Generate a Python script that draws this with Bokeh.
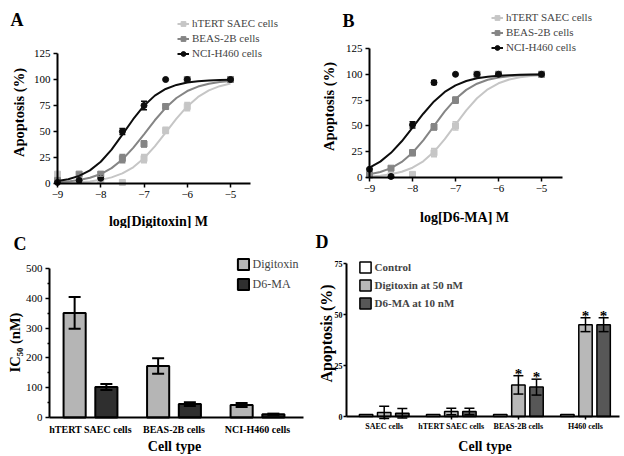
from math import pi
from bokeh.plotting import figure
from bokeh.models import (ColumnDataSource, Whisker, TeeHead, Legend, LegendItem, Label,
                          FixedTicker, Range1d)
from bokeh.transform import dodge
from bokeh.layouts import column, row
from bokeh.embed import file_html
from bokeh.resources import INLINE
from bokeh.core.properties import value

FONT = "Liberation Serif"

# ---------------- data ----------------
series_names = ["hTERT SAEC cells", "BEAS-2B cells", "NCI-H460 cells"]
series_colors = ["#c6c6c6", "#858585", "#0d0d0d"]
series_markers = ["square", "square", "circle"]

conc = [-9.0, -8.5, -8.0, -7.5, -7.0, -6.5, -6.0, -5.0]
fit_x = [-9.0, -8.75, -8.5, -8.25, -8.0, -7.75, -7.5, -7.25, -7.0,
         -6.75, -6.5, -6.25, -6.0, -5.75, -5.5, -5.25, -5.0]

# Panel A (Digitoxin)
A_hTERT = [9, 3, 3, 1, 24, 51, 74, 100]
A_hTERT_err = [0, 0, 0, 0, 4, 3, 4, 0]
A_BEAS = [3, 9, 9, 24, 38, 74, 100, 100]
A_BEAS_err = [0, 0, 2, 4, 3, 2, 0, 0]
A_NCI = [1, 3, 5, 50, 75, 100, 100, 100]
A_NCI_err = [0, 0, 0, 3, 4, 0, 0, 0]
A_fit_hTERT = [0.4, 0.7, 1.2, 2.0, 3.5, 5.9, 9.7, 15.6, 24.3, 35.7, 48.9, 62.3, 74.1, 83.2, 89.5, 93.6, 96.2]
A_fit_BEAS = [1.1, 1.9, 3.3, 5.5, 9.1, 14.8, 23.1, 34.2, 47.3, 60.8, 72.8, 82.2, 88.9, 93.2, 96.0, 97.6, 98.6]
A_fit_NCI = [2.3, 4.1, 7.3, 12.6, 20.9, 32.6, 47.0, 61.8, 74.8, 84.5, 90.9, 94.8, 97.1, 98.4, 99.1, 99.5, 99.7]

# Panel B (D6-MA)
B_hTERT = [2, 2, 3, 24, 50, 100, 100, 100]
B_hTERT_err = [0, 0, 0, 4, 4, 0, 0, 0]
B_BEAS = [3, 9, 24, 49, 75, 100, 100, 100]
B_BEAS_err = [0, 0, 3, 3, 3, 0, 0, 0]
B_NCI = [8, 1, 51, 92, 100, 100, 100, 100]
B_NCI_err = [0, 0, 3, 2, 0, 0, 0, 0]
B_fit_hTERT = [1.0, 1.8, 3.2, 5.6, 9.5, 15.7, 24.9, 37.1, 51.2, 65.1, 76.8, 85.5, 91.3, 94.9, 97.1, 98.3, 99.1]
B_fit_BEAS = [3.1, 5.3, 9.1, 15.1, 24.0, 36.0, 50.0, 64.0, 76.0, 84.9, 90.9, 94.7, 96.9, 98.2, 99.0, 99.4, 99.7]
B_fit_NCI = [9.5, 15.4, 23.9, 35.1, 48.4, 61.8, 73.7, 82.9, 89.3, 93.5, 96.1, 97.7, 98.7, 99.2, 99.6, 99.7, 99.8]

dose_ticks = [-9, -8, -7, -6, -5]
apop_ticks = [0, 25, 50, 75, 100, 125]

# Panel C (IC50)
C_cats = ["hTERT SAEC cells", "BEAS-2B cells", "NCI-H460 cells"]
C_dig = [351, 173, 42]
C_dig_err = [53, 26, 7]
C_d6 = [102, 45, 11]
C_d6_err = [10, 6, 2]
C_ticks = [0, 100, 200, 300, 400, 500]
C_minor = [50, 150, 250, 350, 450]

# Panel D (apoptosis at fixed dose)
D_cats = ["SAEC cells", "hTERT SAEC cells", "BEAS-2B cells", "H460 cells"]
D_ctrl = [1.0, 1.0, 1.0, 1.0]
D_dig = [2.0, 2.5, 15.5, 45.0]
D_dig_err = [3.0, 1.6, 4.5, 3.4]
D_d6 = [1.6, 2.5, 14.4, 45.0]
D_d6_err = [2.3, 1.6, 3.9, 3.4]
D_dig_sig = ["", "", "*", "*"]
D_d6_sig = ["", "", "*", "*"]
D_ticks = [0, 25, 50, 75]

# ---------------- layout helpers ----------------
W, H = 312, 228


def make_fig(xpx0, xv0, xpx1, xv1, ypx0, yv0, ypx1, yv1):
    """Figure whose frame is the whole figure; pixel anchors are local (top-left origin)."""
    sx = (xpx1 - xpx0) / (xv1 - xv0)
    sy = (ypx0 - ypx1) / (yv1 - yv0)
    x0 = xv0 - xpx0 / sx
    y0 = yv0 - (H - ypx0) / sy
    p = figure(width=W, height=H, output_backend="svg", toolbar_location=None,
               x_range=Range1d(x0, x0 + W / sx), y_range=Range1d(y0, y0 + H / sy),
               min_border_left=0, min_border_right=0, min_border_top=0, min_border_bottom=0)
    p.xgrid.visible = False
    p.ygrid.visible = False
    p.outline_line_color = None
    p.background_fill_color = "white"
    p.border_fill_color = "white"
    return p, (lambda px: x0 + px / sx)


def style(p, tick_size, tick_bold=False, tick_out=4):
    for ax in (p.xaxis[0], p.yaxis[0]):
        ax.axis_line_width = 2
        ax.axis_line_color = "black"
        ax.major_tick_line_width = 1.5
        ax.major_tick_line_color = "black"
        ax.major_tick_in = 0
        ax.major_tick_out = tick_out
        ax.minor_tick_line_color = None
        ax.major_label_text_font = FONT
        ax.major_label_text_font_size = tick_size
        ax.major_label_text_color = "black"
        ax.major_label_text_font_style = "bold" if tick_bold else "normal"
        ax.major_label_standoff = 3


def text(p, s, px, py, size, bold=True, angle=0.0, align="center", baseline="alphabetic"):
    p.add_layout(Label(x=px, y=H - py, x_units="screen", y_units="screen", text=s,
                       angle=angle, text_font=FONT,
                       text_font_style="bold" if bold else "normal",
                       text_font_size=size, text_align=align, text_baseline=baseline,
                       text_color="black"))


def add_err(p, xs, ys, errs, color, size, width):
    keep = [(x, y, e) for x, y, e in zip(xs, ys, errs) if e > 0]
    if not keep:
        return
    src = ColumnDataSource(dict(base=[k[0] for k in keep],
                                lower=[k[1] - k[2] for k in keep],
                                upper=[k[1] + k[2] for k in keep]))
    p.add_layout(Whisker(source=src, base="base", lower="lower", upper="upper",
                         line_color=color, line_width=width, level="overlay",
                         upper_head=TeeHead(size=size, line_color=color, line_width=width),
                         lower_head=TeeHead(size=size, line_color=color, line_width=width)))


def dose_panel(fits, pts, errs, xlabel, anchors, axis_end_px, legend_loc, let, let_xy,
               ylab_xy, xlab_xy):
    p, px2x = make_fig(*anchors)
    style(p, "11px")
    p.xaxis.ticker = FixedTicker(ticks=dose_ticks)
    p.yaxis.ticker = FixedTicker(ticks=apop_ticks)
    p.xaxis.fixed_location = 0
    p.yaxis.fixed_location = dose_ticks[0]
    p.xaxis.bounds = (dose_ticks[0], px2x(axis_end_px))
    p.yaxis.bounds = (apop_ticks[0], apop_ticks[-1])
    items = []
    for name, c, m, fy, py, pe in zip(series_names, series_colors, series_markers, fits, pts, errs):
        ln = p.line(fit_x, fy, line_color=c, line_width=2)
        add_err(p, conc, py, pe, c, 6, 1.5)
        sc = p.scatter(conc, py, marker=m, size=6, fill_color=c, line_color=c)
        items.append(LegendItem(label=name, renderers=[ln, sc]))
    p.add_layout(Legend(items=items, location=legend_loc, orientation="vertical",
                        glyph_width=12, glyph_height=15, label_height=15, spacing=0,
                        padding=0, margin=0, label_standoff=3,
                        border_line_color=None, background_fill_alpha=0,
                        label_text_font=FONT, label_text_font_size="11px"))
    text(p, let, let_xy[0], let_xy[1], "18px", align="left")
    text(p, "Apoptosis (%)", ylab_xy[0], ylab_xy[1], "14.5px", angle=pi / 2, baseline="middle")
    text(p, xlabel, xlab_xy[0], xlab_xy[1], "14px")
    return p


pA = dose_panel([A_fit_hTERT, A_fit_BEAS, A_fit_NCI], [A_hTERT, A_BEAS, A_NCI],
                [A_hTERT_err, A_BEAS_err, A_NCI_err], "log[Digitoxin] M",
                (57, -9, 230, -5, 183, 0, 53, 125), 250, (177, 167.5), "A", (10, 19),
                (18, 112), (158, 221))
pB = dose_panel([B_fit_hTERT, B_fit_BEAS, B_fit_NCI], [B_hTERT, B_BEAS, B_NCI],
                [B_hTERT_err, B_BEAS_err, B_NCI_err], "log[D6-MA] M",
                (57, -9, 229, -5, 177, 0, 48, 125), 250, (179, 173.5), "B", (30, 20),
                (16, 106), (152, 217))

# ---------------- panel C ----------------
C_pos = list(range(len(C_cats)))
pC, cx = make_fig(90, C_pos[0], 257, C_pos[-1], 189, C_ticks[0], 40, C_ticks[-1])
style(pC, "11px")
pC.xaxis.ticker = FixedTicker(ticks=C_pos)
pC.xaxis.major_label_overrides = {i: c for i, c in zip(C_pos, C_cats)}
pC.xaxis.major_label_text_font_style = "bold"
pC.xaxis.major_label_text_font_size = "10px"
pC.xaxis.major_tick_out = 0
pC.xaxis.major_label_standoff = 6
pC.xaxis.fixed_location = 0
pC.xaxis.bounds = (cx(49), cx(303))
pC.yaxis.fixed_location = cx(49)
pC.yaxis.bounds = (C_ticks[0], C_ticks[-1])
pC.yaxis.ticker = FixedTicker(ticks=C_ticks, minor_ticks=C_minor)
pC.yaxis.minor_tick_line_color = "black"
pC.yaxis.minor_tick_line_width = 1.5
pC.yaxis.minor_tick_in = 0
pC.yaxis.minor_tick_out = 2

srcC = ColumnDataSource(dict(pos=C_pos, dig=C_dig, d6=C_d6,
                             dig_lo=[v - e for v, e in zip(C_dig, C_dig_err)],
                             dig_hi=[v + e for v, e in zip(C_dig, C_dig_err)],
                             d6_lo=[v - e for v, e in zip(C_d6, C_d6_err)],
                             d6_hi=[v + e for v, e in zip(C_d6, C_d6_err)]))
bC1 = pC.vbar(x=dodge("pos", -0.19), top="dig", width=0.265, source=srcC,
              fill_color="#b5b5b5", line_color="black", line_width=2)
bC2 = pC.vbar(x=dodge("pos", 0.19), top="d6", width=0.265, source=srcC,
              fill_color="#2f2f2f", line_color="black", line_width=2)
for off, lo, hi in [(-0.19, "dig_lo", "dig_hi"), (0.19, "d6_lo", "d6_hi")]:
    pC.add_layout(Whisker(source=srcC, base=dodge("pos", off), lower=lo, upper=hi,
                          line_color="black", line_width=2, level="overlay",
                          upper_head=TeeHead(size=12, line_color="black", line_width=2),
                          lower_head=TeeHead(size=12, line_color="black", line_width=2)))
pC.add_layout(Legend(items=[LegendItem(label="Digitoxin", renderers=[bC1]),
                            LegendItem(label="D6-MA", renderers=[bC2])],
                     location=(235.6, 164.4), orientation="vertical",
                     glyph_width=14, glyph_height=14, label_height=14, spacing=5,
                     padding=0, margin=0, label_standoff=3,
                     border_line_color=None, background_fill_alpha=0,
                     label_text_font=FONT, label_text_font_size="12px"))
text(pC, "C", 13, 15, "18px", align="left")
text(pC, "IC\u2085\u2080 (nM)", 14, 114, "14.5px", angle=pi / 2, baseline="middle")
text(pC, "Cell type", 174, 218, "14px")

# ---------------- panel D ----------------
D_pos = list(range(len(D_cats)))
pD, dx = make_fig(71.7, D_pos[0], 273, D_pos[-1], 188, D_ticks[0], 35, D_ticks[-1])
style(pD, "8px", tick_bold=True, tick_out=3)
pD.xaxis.ticker = FixedTicker(ticks=D_pos)
pD.xaxis.major_label_overrides = {i: c for i, c in zip(D_pos, D_cats)}
pD.yaxis.ticker = FixedTicker(ticks=D_ticks)
pD.xaxis.major_label_standoff = 2
pD.yaxis.major_label_standoff = 1
pD.xaxis.fixed_location = 0
pD.xaxis.bounds = (dx(34), dx(307))
pD.yaxis.fixed_location = dx(34)
pD.yaxis.bounds = (D_ticks[0], D_ticks[-1])

srcD = ColumnDataSource(dict(pos=D_pos, ctrl=D_ctrl, dig=D_dig, d6=D_d6,
                             dig_lo=[v - e for v, e in zip(D_dig, D_dig_err)],
                             dig_hi=[v + e for v, e in zip(D_dig, D_dig_err)],
                             d6_lo=[v - e for v, e in zip(D_d6, D_d6_err)],
                             d6_hi=[v + e for v, e in zip(D_d6, D_d6_err)]))
bD0 = pD.vbar(x=dodge("pos", -0.27), top="ctrl", width=0.2, source=srcD,
              fill_color="white", line_color="black", line_width=1.5)
bD1 = pD.vbar(x=dodge("pos", 0.0), top="dig", width=0.2, source=srcD,
              fill_color="#b8b8b8", line_color="black", line_width=1.5)
bD2 = pD.vbar(x=dodge("pos", 0.27), top="d6", width=0.2, source=srcD,
              fill_color="#575757", line_color="black", line_width=1.5)
for off, lo, hi in [(0.0, "dig_lo", "dig_hi"), (0.27, "d6_lo", "d6_hi")]:
    pD.add_layout(Whisker(source=srcD, base=dodge("pos", off), lower=lo, upper=hi,
                          line_color="black", line_width=1.5, level="overlay",
                          upper_head=TeeHead(size=10, line_color="black", line_width=1.5),
                          lower_head=TeeHead(size=10, line_color="black", line_width=1.5)))

# significance marks, from the flags above
sig_x, sig_y, sig_t = [], [], []
for off, vals, errs, flags in [(0.0, D_dig, D_dig_err, D_dig_sig), (0.27, D_d6, D_d6_err, D_d6_sig)]:
    for pos, v, e, f in zip(D_pos, vals, errs, flags):
        if f:
            sig_x.append(pos + off)
            sig_y.append(v + e)
            sig_t.append(f)
pD.text(x=sig_x, y=sig_y, text=sig_t, text_font=value(FONT), text_font_style="bold",
        text_font_size="15px", text_align="center", text_baseline="alphabetic",
        y_offset=-2, text_color="black")

pD.add_layout(Legend(items=[LegendItem(label="Control", renderers=[bD0]),
                            LegendItem(label="Digitoxin at 50 nM", renderers=[bD1]),
                            LegendItem(label="D6-MA at 10 nM", renderers=[bD2])],
                     location=(45.6, 146.4), orientation="vertical",
                     glyph_width=14, glyph_height=14, label_height=14, spacing=4,
                     padding=0, margin=0, label_standoff=3,
                     border_line_color=None, background_fill_alpha=0,
                     label_text_font=FONT, label_text_font_style="bold",
                     label_text_font_size="11px"))
text(pD, "D", 3, 13, "18px", align="left")
text(pD, "Apoptosis (%)", 14, 105, "16px", angle=pi / 2, baseline="middle")
text(pD, "Cell type", 172.5, 218, "14px")

layout = column(row(pA, pB), row(pC, pD))
open("out.html", "w").write(file_html(layout, INLINE))
